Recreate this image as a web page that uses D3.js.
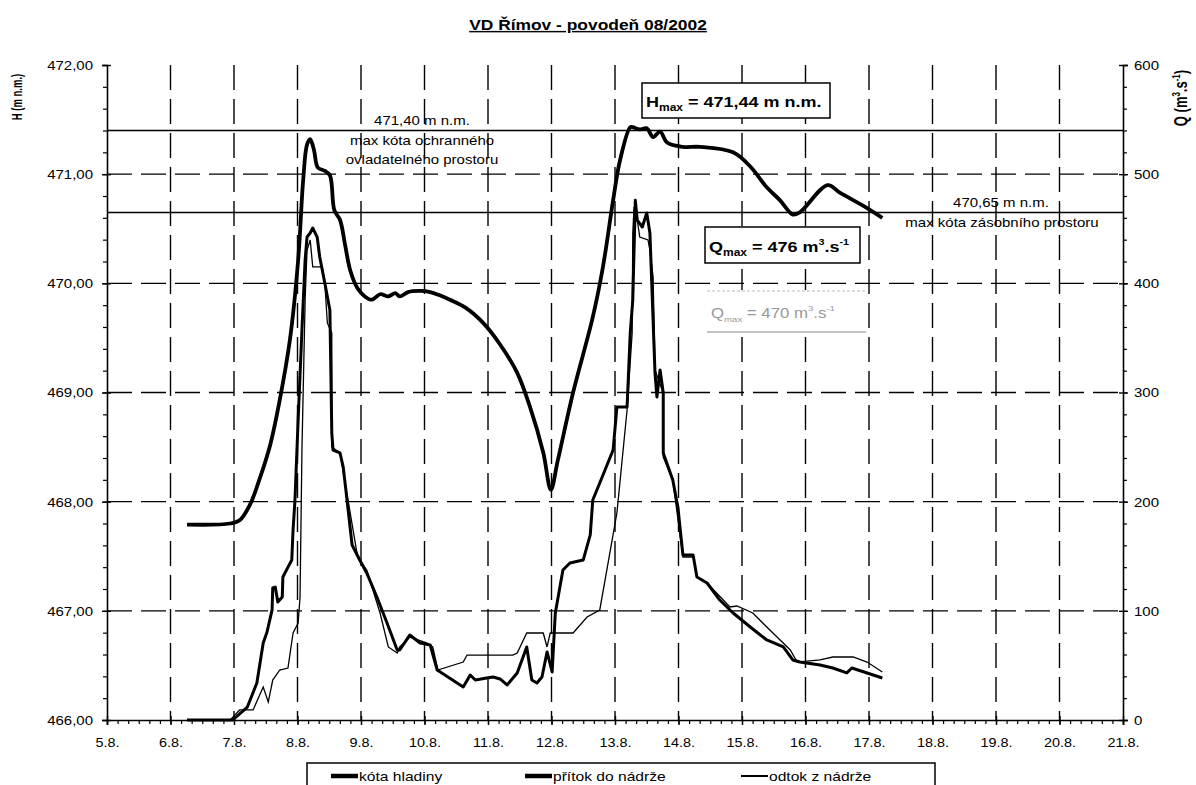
<!DOCTYPE html>
<html lang="cs">
<head>
<meta charset="UTF-8">
<title>VD Římov - povodeň 08/2002</title>
<script src="https://d3js.org/d3.v7.min.js"></script>
<style>
body { margin: 0; background: #fff; }
svg text { font-family: "Liberation Sans", Arial, sans-serif; fill: #000; }
</style>
</head>
<body>
<script>
// days of August 2002, tick positions
const dayTicks = d3.range(5, 22);
const hTicks = [466, 467, 468, 469, 470, 471, 472];
const qTicks = [0, 100, 200, 300, 400, 500, 600];
const limitLevels = [471.40, 470.65];

// [day of August, m n.m.]
const hladina = [[6.26,467.79],[6.94,467.80],[7.09,467.83],[7.25,467.97],[7.41,468.22],[7.57,468.52],[7.72,468.93],[7.88,469.48],
  [8.01,470.21],[8.09,470.95],[8.15,471.27],[8.20,471.32],[8.26,471.22],[8.32,471.06],[8.43,471.03],[8.51,470.99],[8.58,470.67],
  [8.67,470.58],[8.75,470.35],[8.83,470.12],[8.94,469.96],[9.06,469.88],[9.17,469.85],[9.30,469.90],[9.43,469.88],[9.54,469.91],
  [9.61,469.88],[9.74,469.92],[9.93,469.93],[10.09,469.92],[10.24,469.89],[10.40,469.85],[10.64,469.78],[10.92,469.64],
  [11.19,469.44],[11.46,469.18],[11.66,468.87],[11.87,468.45],[11.99,468.11],[12.10,468.38],[12.34,469.00],[12.65,469.69],
  [12.81,470.15],[12.97,470.76],[13.08,471.13],[13.24,471.43],[13.28,471.43],[13.39,471.41],[13.50,471.42],[13.60,471.34],
  [13.71,471.39],[13.82,471.29],[14.07,471.25],[14.34,471.25],[14.86,471.20],[15.13,471.07],[15.39,470.88],[15.60,470.76],
  [15.80,470.63],[15.91,470.65],[16.35,470.90],[16.54,470.83],[16.97,470.69],[17.21,470.60]];

// [day of August, m3/s]
const pritok = [[6.26,0],[6.98,0],[7.21,11.9],[7.36,33.9],[7.46,70.5],[7.52,80.6],[7.60,100.8],[7.61,120.9],[7.65,121.8],
  [7.69,108.1],[7.76,112.7],[7.77,131],[7.85,140.1],[7.91,146.6],[7.93,174],[7.96,201.5],[8.01,274.8],[8.07,357.2],[8.12,421.4],
  [8.15,442.4],[8.20,446.1],[8.24,450.7],[8.31,442.4],[8.35,424.1],[8.43,400.3],[8.51,375.6],[8.54,262.9],[8.56,247.3],
  [8.67,244.6],[8.72,231.7],[8.78,201.5],[8.86,160.3],[8.98,146.6],[9.09,134.7],[9.25,112.7],[9.41,88.9],[9.57,64.1],[9.61,64.1],
  [9.77,77.9],[9.93,70.5],[10.09,68.7],[10.20,45.8],[10.61,30.2],[10.72,41.2],[10.80,36.6],[10.98,38.5],[11.08,39.4],[11.19,37.6],
  [11.30,32.1],[11.46,43.1],[11.61,66.9],[11.69,36.6],[11.77,33.9],[11.85,39.4],[11.93,62.3],[12.01,44],[12.06,98],[12.18,137.4],
  [12.29,143.8],[12.50,146.6],[12.61,169.5],[12.65,201.5],[12.76,217.1],[12.97,247.3],[13.03,286.7],[13.19,286.7],[13.24,354.5],
  [13.28,384.7],[13.32,476],[13.35,458],[13.43,451.6],[13.50,464.4],[13.55,446.1],[13.63,317.9],[13.66,295.9],[13.71,320.6],
  [13.76,299.5],[13.76,244.6],[13.91,219.8],[13.99,195.1],[14.07,151.1],[14.23,151.1],[14.29,131],[14.45,125.5],[14.65,109.9],
  [14.86,98],[15.13,85.2],[15.39,73.3],[15.65,66.9],[15.80,55],[15.91,53.1],[16.23,50.4],[16.43,47.6],[16.65,43.1],[16.73,47.6],
  [16.97,43.1],[17.21,38.5]];

const odtok = [[6.26,0],[6.94,0],[7.09,9.2],[7.30,9.2],[7.46,30.2],[7.54,16.5],[7.61,36.6],[7.72,45.8],[7.85,47.6],[7.93,79.7],
  [8.01,88.9],[8.04,112.7],[8.07,247.3],[8.12,384.7],[8.15,430.5],[8.20,439.7],[8.24,415],[8.39,415],[8.43,400.3],[8.47,363.7],
  [8.54,354.5],[8.54,250.1],[8.67,244.6],[8.95,148.4],[9.09,137.4],[9.30,98],[9.43,66.9],[9.57,61.4],[9.61,66.9],[9.77,76],
  [10.04,70.5],[10.13,66.9],[10.21,45.8],[10.61,53.1],[10.67,59.5],[11.39,59.5],[11.46,61.4],[11.61,79.7],[11.87,79.7],
  [11.93,66.9],[11.98,79.7],[12.34,79.7],[12.56,94.3],[12.76,100.8],[13.03,189.6],[13.19,284],[13.27,354.5],[13.28,446.1],
  [13.30,470],[13.35,458],[13.39,442.4],[13.52,439.7],[13.55,430.5],[13.60,405.8],[13.63,320.6],[13.76,299.5],[13.76,240.9],
  [13.91,219.8],[14.07,149.3],[14.23,149.3],[14.29,131],[14.45,125.5],[14.81,103.5],[14.92,104.4],[15.17,98],[15.39,85.2],
  [15.60,73.3],[15.76,64.1],[15.87,53.1],[16.23,55],[16.43,57.7],[16.75,57.7],[16.97,53.1],[17.21,44]];

const W = 1196, H = 785;
const margin = {top: 65, right: 73, bottom: 65, left: 107};
const SX = 1.2; // the scan is stretched sideways

const svg = d3.select("body").append("svg").attr("width", W).attr("height", H);

const x = d3.scaleLinear().domain([5, 21]).range([margin.left, W - margin.right]);
const yH = d3.scaleLinear().domain([466, 472]).range([H - margin.bottom, margin.top]);
const yQ = d3.scaleLinear().domain([0, 600]).range([H - margin.bottom, margin.top]);

function txt(g, px, py, size, anchor) {
    return g.append("text")
        .attr("transform", `translate(${px},${py}) scale(${SX},1)`)
        .attr("font-size", size)
        .attr("text-anchor", anchor || "start");
}

// grid
const grid = svg.append("g").attr("stroke", "#000").attr("stroke-width", 1.4).attr("stroke-dasharray", "25,9");
grid.selectAll(".v").data(dayTicks.slice(1, -1)).join("line")
    .attr("x1", d => x(d)).attr("x2", d => x(d)).attr("y1", yH(472)).attr("y2", yH(466));
grid.selectAll(".h").data(hTicks.slice(1, -1)).join("line")
    .attr("x1", x(5)).attr("x2", x(21)).attr("y1", d => yH(d)).attr("y2", d => yH(d));

// limit levels
svg.append("g").selectAll("line").data(limitLevels).join("line")
    .attr("x1", x(5)).attr("x2", x(21)).attr("y1", d => yH(d)).attr("y2", d => yH(d))
    .attr("stroke", "#000").attr("stroke-width", 1.5);

// axes
const fmtH = d => d3.format(".2f")(d).replace(".", ",");
function styleAxis(g) {
    g.select(".domain").attr("stroke-width", 1.6);
    g.selectAll(".tick line").attr("stroke-width", 1.4);
}
const axL = svg.append("g").attr("transform", `translate(${margin.left},0)`)
    .call(d3.axisLeft(yH).tickValues(hTicks).tickFormat(fmtH).tickSize(5).tickPadding(9));
axL.call(styleAxis);
axL.selectAll(".tick line").attr("x1", 4);
axL.selectAll(".tick text").attr("font-size", 12.5).attr("transform", `scale(${SX},1)`)
    .attr("x", -14 / SX).attr("dy", "0.35em");
svg.append("g").attr("transform", `translate(${margin.left},0)`)
    .call(d3.axisLeft(yH).tickValues(d3.range(466, 472.01, 0.2)).tickFormat("").tickSize(4))
    .call(g => g.select(".domain").remove()).selectAll("line").attr("stroke-width", 1.2);

const axR = svg.append("g").attr("transform", `translate(${W - margin.right},0)`)
    .call(d3.axisRight(yQ).tickValues(qTicks).tickSize(5));
axR.call(styleAxis);
axR.selectAll(".tick line").attr("x1", -4);
axR.selectAll(".tick text").attr("font-size", 12.5).attr("transform", `scale(${SX},1)`)
    .attr("x", 11 / SX).attr("dy", "0.35em");
svg.append("g").attr("transform", `translate(${W - margin.right},0)`)
    .call(d3.axisRight(yQ).tickValues(d3.range(0, 601, 20)).tickFormat("").tickSize(4))
    .call(g => g.select(".domain").remove()).selectAll("line").attr("stroke-width", 1.2);

const axB = svg.append("g").attr("transform", `translate(0,${H - margin.bottom})`)
    .call(d3.axisBottom(x).tickValues(dayTicks).tickFormat(d => d + ".8.").tickSize(5).tickPadding(13));
axB.call(styleAxis);
axB.selectAll(".tick line").attr("y1", -4);
axB.selectAll(".tick text").attr("font-size", 12).attr("transform", `scale(${SX},1)`);
svg.append("g").attr("transform", `translate(0,${H - margin.bottom})`)
    .call(d3.axisBottom(x).tickValues(d3.range(5, 21.001, 1 / 6)).tickFormat("").tickSize(4))
    .call(g => g.select(".domain").remove()).selectAll("line").attr("stroke-width", 1.2);

// series
const lineH = d3.line().x(d => x(d[0])).y(d => yH(d[1])).curve(d3.curveCatmullRom.alpha(0.5));
const lineQ = d3.line().x(d => x(d[0])).y(d => yQ(d[1]));
svg.append("path").datum(odtok).attr("d", lineQ).attr("fill", "none").attr("stroke", "#000").attr("stroke-width", 1.3);
svg.append("path").datum(pritok).attr("d", lineQ).attr("fill", "none").attr("stroke", "#000").attr("stroke-width", 3)
    .attr("stroke-linejoin", "round");
svg.append("path").datum(hladina).attr("d", lineH).attr("fill", "none").attr("stroke", "#000").attr("stroke-width", 3.8)
    .attr("stroke-linejoin", "round");

// title and axis names
txt(svg, 588, 30, 14.5, "middle").attr("font-weight", "bold")
    .style("text-decoration", "underline").text("VD Římov - povodeň 08/2002");

svg.append("text").attr("transform", `translate(22,97) scale(1.6,1) rotate(-90)`)
    .attr("font-size", 9.5).attr("font-weight", "bold").attr("text-anchor", "middle").text("H (m n.m.)");
const qLab = svg.append("text").attr("transform", `translate(1187,98) scale(1.4,1) rotate(-90)`)
    .attr("font-size", 13).attr("font-weight", "bold").attr("text-anchor", "middle");
qLab.append("tspan").text("Q (m");
qLab.append("tspan").attr("font-size", 8).attr("dy", -5).text("3");
qLab.append("tspan").attr("dy", 5).text(".s");
qLab.append("tspan").attr("font-size", 8).attr("dy", -5).text("-1");
qLab.append("tspan").attr("dy", 5).text(")");

// annotations of limit levels
const ann = svg.append("g");
txt(ann, 422, 125, 12.5, "middle").text("471,40 m n.m.");
txt(ann, 422, 145, 12.5, "middle").text("max  kóta ochranného");
txt(ann, 422, 164, 12.5, "middle").text("ovladatelného prostoru");
txt(ann, 1001, 207, 12.5, "middle").text("470,65 m n.m.");
txt(ann, 1002, 227, 12.5, "middle").text("max kóta zásobního prostoru");

// H max box
ann.append("rect").attr("x", 642).attr("y", 83).attr("width", 188).attr("height", 35)
    .attr("fill", "#fff").attr("stroke", "#000").attr("stroke-width", 1.5);
const hm = txt(ann, 646, 107, 15, "start").attr("font-weight", "bold");
hm.append("tspan").text("H");
hm.append("tspan").attr("font-size", 10).attr("dy", 4).text("max");
hm.append("tspan").attr("dy", -4).text(" = 471,44 m n.m.");

// Q max box
ann.append("rect").attr("x", 705).attr("y", 227).attr("width", 155).attr("height", 36)
    .attr("fill", "#fff").attr("stroke", "#000").attr("stroke-width", 1.5);
const qm = txt(ann, 709, 252, 15, "start").attr("font-weight", "bold");
qm.append("tspan").text("Q");
qm.append("tspan").attr("font-size", 10).attr("dy", 4).text("max");
qm.append("tspan").attr("dy", -4).text(" = 476 m");
qm.append("tspan").attr("font-size", 9).attr("dy", -7).text("3");
qm.append("tspan").attr("dy", 7).text(".s");
qm.append("tspan").attr("font-size", 9).attr("dy", -7).text("-1");

// faded box (outflow max)
ann.append("rect").attr("x", 707).attr("y", 290).attr("width", 159).attr("height", 42).attr("fill", "#fff");
ann.append("line").attr("x1", 707).attr("x2", 866).attr("y1", 291).attr("y2", 291)
    .attr("stroke", "#bbb").attr("stroke-width", 1).attr("stroke-dasharray", "3,2");
ann.append("line").attr("x1", 707).attr("x2", 866).attr("y1", 332).attr("y2", 332)
    .attr("stroke", "#888").attr("stroke-width", 1.2);
const qf = txt(ann, 711, 318, 14, "start").style("fill", "#999");
qf.append("tspan").text("Q");
qf.append("tspan").attr("font-size", 8).attr("dy", 4).text("max");
qf.append("tspan").attr("dy", -4).text(" = 470 m");
qf.append("tspan").attr("font-size", 8).attr("dy", -7).text("3");
qf.append("tspan").attr("dy", 7).text(".s");
qf.append("tspan").attr("font-size", 8).attr("dy", -7).text("-1");

// legend
const series = [
    {name: "kóta hladiny", w: 4.5, x0: 331},
    {name: "přítok do nádrže", w: 4.5, x0: 525},
    {name: "odtok z nádrže", w: 2, x0: 741}
];
const leg = svg.append("g");
leg.append("rect").attr("x", 307).attr("y", 763).attr("width", 628).attr("height", 40)
    .attr("fill", "#fff").attr("stroke", "#000").attr("stroke-width", 1.5);
series.forEach(s => {
    leg.append("line").attr("x1", s.x0).attr("x2", s.x0 + 27).attr("y1", 776).attr("y2", 776)
        .attr("stroke", "#000").attr("stroke-width", s.w);
    txt(leg, s.x0 + 28, 781, 13, "start").text(s.name);
});
</script>
</body>
</html>
